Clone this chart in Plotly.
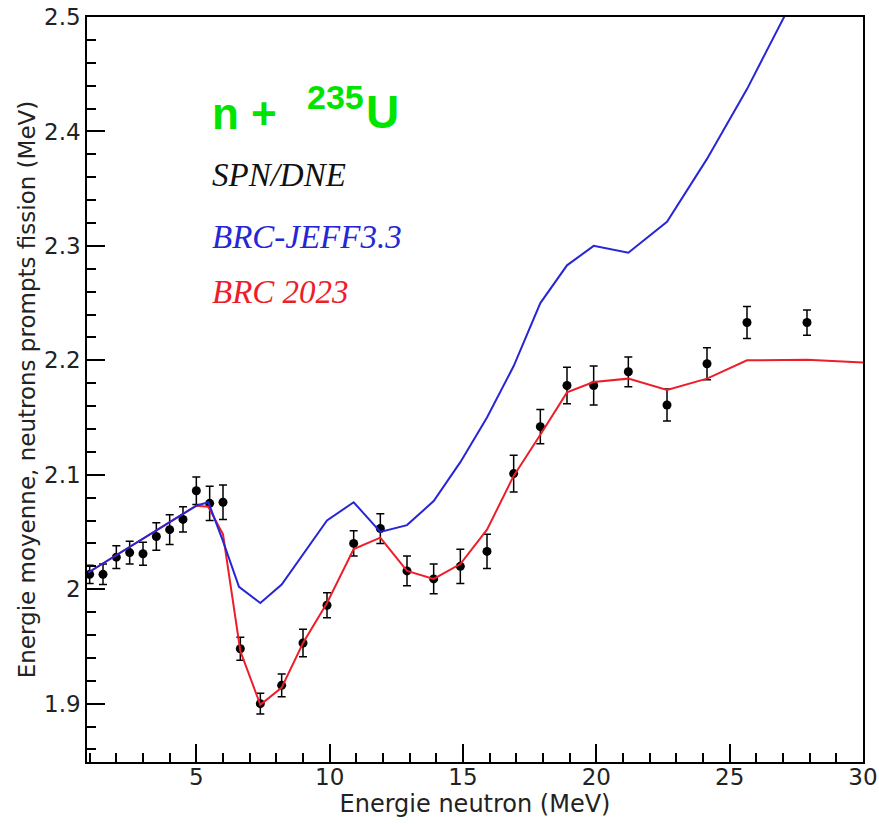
import plotly.graph_objects as go

# Measured mean prompt fission neutron energy, n + 235U (SPN/DNE)
e_exp = [1.0, 1.5, 2.0, 2.5, 3.0, 3.5, 4.0, 4.5, 5.0, 5.5, 6.0,
         6.65, 7.4, 8.2, 9.0, 9.9, 10.9, 11.9, 12.9, 13.9, 14.9, 15.9,
         16.9, 17.9, 18.9, 19.9, 21.2, 22.65, 24.15, 25.65, 27.9]
v_exp = [2.013, 2.013, 2.028, 2.032, 2.031, 2.046, 2.052, 2.061, 2.086, 2.075, 2.076,
         1.948, 1.900, 1.916, 1.953, 1.986, 2.040, 2.053, 2.016, 2.009, 2.020, 2.033,
         2.101, 2.142, 2.178, 2.178, 2.190, 2.161, 2.197, 2.233, 2.233]
err_exp = [0.008, 0.009, 0.010, 0.010, 0.010, 0.012, 0.013, 0.011, 0.012, 0.015, 0.015,
           0.010, 0.009, 0.010, 0.012, 0.011, 0.011, 0.013, 0.013, 0.013, 0.015, 0.015,
           0.016, 0.015, 0.016, 0.017, 0.013, 0.014, 0.014, 0.014, 0.011]

# BRC-JEFF3.3 evaluation
e_jeff = [0.95, 5.0, 5.45, 6.0, 6.6, 7.4, 8.2, 9.9, 10.9, 11.9, 12.9, 13.9,
          14.9, 15.9, 16.9, 17.9, 18.9, 19.9, 21.2, 22.65, 24.15, 25.65, 27.15, 28.65]
v_jeff = [2.0146, 2.073, 2.076, 2.042, 2.002, 1.988, 2.004, 2.060, 2.076, 2.050, 2.056, 2.077,
          2.111, 2.150, 2.195, 2.250, 2.283, 2.300, 2.294, 2.321, 2.376, 2.437, 2.505, 2.580]

# BRC 2023 evaluation
e_brc = [0.95, 5.0, 5.45, 6.0, 6.65, 7.4, 8.2, 9.0, 9.9, 10.9, 11.9, 12.9, 13.9,
         14.9, 15.9, 16.9, 17.9, 18.9, 19.9, 21.2, 22.65, 24.15, 25.65, 27.9, 30.0]
v_brc = [2.0146, 2.073, 2.072, 2.048, 1.946, 1.899, 1.914, 1.953, 1.988, 2.035, 2.045, 2.016, 2.009,
         2.022, 2.052, 2.099, 2.135, 2.172, 2.181, 2.184, 2.174, 2.184, 2.200, 2.2005, 2.198]

BLUE = "#2626d6"
RED = "#ee1d2a"
GREEN = "#00e400"
SANS = "DejaVu Sans, Verdana, sans-serif"
BOLD_SANS = "Liberation Sans, Arial, sans-serif"
SERIF = "Liberation Serif, Times New Roman, serif"

fig = go.Figure()

fig.add_trace(go.Scatter(
    x=e_exp, y=v_exp, mode="markers", name="SPN/DNE",
    marker=dict(color="black", size=9),
    error_y=dict(type="data", array=err_exp, visible=True,
                 color="black", thickness=1.5, width=4),
))
fig.add_trace(go.Scatter(
    x=e_brc, y=v_brc, mode="lines", name="BRC 2023",
    line=dict(color=RED, width=2),
))
fig.add_trace(go.Scatter(
    x=e_jeff, y=v_jeff, mode="lines", name="BRC-JEFF3.3",
    line=dict(color=BLUE, width=2),
))

tick_font = dict(family=SANS, size=23, color="#222")

fig.update_xaxes(
    range=[0.9, 30], showgrid=False, zeroline=False, automargin=False,
    showline=True, linecolor="black", linewidth=1.5, mirror=True,
    ticks="inside", ticklen=18, tickwidth=1.5, tickcolor="black",
    tick0=0, dtick=5, tickfont=tick_font, ticklabelstandoff=-6,
    minor=dict(ticks="inside", ticklen=9, tickwidth=1.5, tickcolor="black", dtick=1),
    title=dict(text="Energie neutron (MeV)", standoff=0,
               font=dict(family=SANS, size=24, color="#222")),
)
fig.update_yaxes(
    range=[1.849, 2.5], showgrid=False, zeroline=False, automargin=False,
    showline=True, linecolor="black", linewidth=1.5, mirror=True,
    ticks="inside", ticklen=18, tickwidth=1.5, tickcolor="black",
    tick0=1.9, dtick=0.1, tickfont=tick_font, tickformat="~g",
    minor=dict(ticks="inside", ticklen=9, tickwidth=1.5, tickcolor="black", dtick=0.02),
    title=dict(text="Energie moyenne, neutrons prompts fission (MeV)", standoff=2,
               font=dict(family=SANS, size=23, color="#222")),
)

# Reaction label: "n +", mass number and element placed as separate pieces
fig.add_annotation(xref="paper", yref="paper", x=0.1585, y=0.871, xanchor="left", yanchor="middle",
                   showarrow=False, text="<b>n +</b>",
                   font=dict(family=BOLD_SANS, size=44, color=GREEN))
fig.add_annotation(xref="paper", yref="paper", x=0.281, y=0.893, xanchor="left", yanchor="middle",
                   showarrow=False, text="<b>235</b>",
                   font=dict(family=BOLD_SANS, size=34, color=GREEN))
fig.add_annotation(xref="paper", yref="paper", x=0.357, y=0.873, xanchor="left", yanchor="middle",
                   showarrow=False, text="<b>U</b>",
                   font=dict(family=BOLD_SANS, size=46, color=GREEN))

# Series labels
fig.add_annotation(xref="paper", yref="paper", x=0.1585, y=0.788, xanchor="left", yanchor="middle",
                   showarrow=False, text="<i>SPN/DNE</i>",
                   font=dict(family=SERIF, size=33, color="#111"))
fig.add_annotation(xref="paper", yref="paper", x=0.1585, y=0.705, xanchor="left", yanchor="middle",
                   showarrow=False, text="<i>BRC-JEFF3.3</i>",
                   font=dict(family=SERIF, size=33, color=BLUE))
fig.add_annotation(xref="paper", yref="paper", x=0.1585, y=0.631, xanchor="left", yanchor="middle",
                   showarrow=False, text="<i>BRC 2023</i>",
                   font=dict(family=SERIF, size=33, color=RED))

fig.update_layout(
    width=879, height=824,
    margin=dict(l=87, r=16, t=17, b=62),
    paper_bgcolor="white", plot_bgcolor="white",
    showlegend=False,
)

fig.write_html("out.html")
